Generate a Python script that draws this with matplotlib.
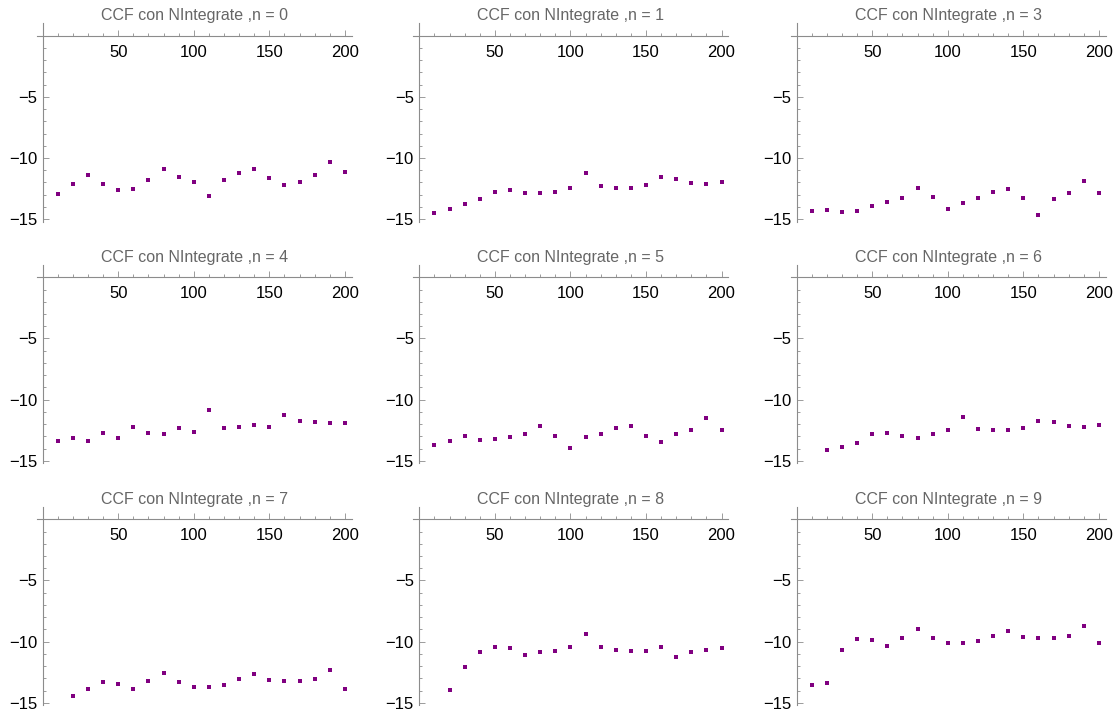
import numpy as np
import matplotlib
matplotlib.use("Agg")
import matplotlib.pyplot as plt
from matplotlib.ticker import MultipleLocator, FixedLocator

plt.rcParams['font.family'] = ['Liberation Sans', 'DejaVu Sans']

# ---- data ----
n_values = [0, 1, 3, 4, 5, 6, 7, 8, 9]

x_full = list(range(10, 201, 10))   # 10 .. 200
x_from20 = list(range(20, 201, 10))  # 20 .. 200

ccf_n0 = [-12.98, -12.13, -11.43, -12.13, -12.64, -12.50, -11.80, -10.90, -11.55, -11.99,
          -13.12, -11.80, -11.26, -10.90, -11.60, -12.22, -11.94, -11.38, -10.31, -11.18]
ccf_n1 = [-14.50, -14.13, -13.76, -13.37, -12.75, -12.64, -12.89, -12.89, -12.75, -12.42,
          -11.24, -12.28, -12.42, -12.42, -12.22, -11.57, -11.74, -12.08, -12.13, -11.99]
ccf_n3 = [-14.36, -14.22, -14.41, -14.36, -13.95, -13.62, -13.30, -12.48, -13.22, -14.17,
          -13.68, -13.30, -12.75, -12.56, -13.30, -14.69, -13.35, -12.89, -11.88, -12.83]
ccf_n4 = [-13.35, -13.16, -13.35, -12.75, -13.16, -12.21, -12.75, -12.81, -12.34, -12.62,
          -10.87, -12.29, -12.21, -12.07, -12.21, -11.28, -11.74, -11.83, -11.88, -11.93]
ccf_n5 = [-13.68, -13.41, -12.94, -13.32, -13.22, -13.08, -12.81, -12.13, -12.94, -13.95,
          -13.08, -12.81, -12.34, -12.13, -13.00, -13.46, -12.81, -12.48, -11.50, -12.48]
ccf_n6 = [-14.11, -13.84, -13.51, -12.83, -12.72, -12.97, -13.13, -12.83, -12.51, -11.39,
          -12.37, -12.51, -12.51, -12.32, -11.72, -11.85, -12.18, -12.23, -12.10]
ccf_n7 = [-14.48, -13.88, -13.28, -13.47, -13.88, -13.22, -12.54, -13.28, -13.72, -13.72,
          -13.55, -13.06, -12.68, -13.14, -13.20, -13.20, -13.06, -12.35, -13.88]
ccf_n8 = [-13.93, -12.08, -10.82, -10.41, -10.55, -11.09, -10.82, -10.74, -10.41, -9.34,
          -10.46, -10.68, -10.74, -10.74, -10.46, -11.26, -10.87, -10.68, -10.55]
ccf_n9 = [-13.55, -13.42, -10.68, -9.75, -9.89, -10.36, -9.70, -8.96, -9.70, -10.08,
          -10.14, -9.95, -9.54, -9.15, -9.62, -9.67, -9.67, -9.54, -8.74, -10.14]

series_x = [x_full, x_full, x_full, x_full, x_full, x_from20, x_from20, x_from20, x_full]
series_y = [ccf_n0, ccf_n1, ccf_n3, ccf_n4, ccf_n5, ccf_n6, ccf_n7, ccf_n8, ccf_n9]

x_major = [50, 100, 150, 200]
y_major = [-5, -10, -15]

# ---- layout ----
W, H = 1118, 716
fig = plt.figure(figsize=(W / 100, H / 100), dpi=100)

XMIN, XMAX = -4.0, 204.6
YMIN, YMAX = -15.2, 1.0
px_per_x = 1.511
px_per_y = 12.23
yaxis_px = [42.7, 419.3, 796.7]
xaxis_px = [35.7, 277.3, 519.3]

axis_col = '#8c8c8c'
pt_col = '#800080'

for i, (n, xs, ys) in enumerate(zip(n_values, series_x, series_y)):
    r, c = divmod(i, 3)
    left = yaxis_px[c] + XMIN * px_per_x
    width = (XMAX - XMIN) * px_per_x
    top = xaxis_px[r] - YMAX * px_per_y
    height = (YMAX - YMIN) * px_per_y
    ax = fig.add_axes([left / W, 1 - (top + height) / H, width / W, height / H])
    ax.set_xlim(XMIN, XMAX)
    ax.set_ylim(YMIN, YMAX)
    ax.patch.set_alpha(0)

    ax.plot(xs, ys, linestyle='none', marker='s', markersize=2.8,
            markeredgewidth=0, color=pt_col, clip_on=False)

    for s in ('top', 'right'):
        ax.spines[s].set_visible(False)
    ax.spines['bottom'].set_position(('data', 0))
    ax.spines['left'].set_position(('data', 0))
    for s in ('bottom', 'left'):
        ax.spines[s].set_color(axis_col)
        ax.spines[s].set_linewidth(0.8)

    ax.xaxis.set_major_locator(FixedLocator(x_major))
    ax.xaxis.set_minor_locator(FixedLocator([v for v in range(10, 201, 10) if v % 50]))
    ax.yaxis.set_major_locator(FixedLocator(y_major))
    ax.yaxis.set_minor_locator(FixedLocator([v for v in range(-14, 0) if v % 5]))

    ax.tick_params(axis='both', which='both', direction='in', color=axis_col,
                   width=0.6, labelcolor='black', labelsize=12)
    ax.tick_params(axis='both', which='major', length=4)
    ax.tick_params(axis='both', which='minor', length=2.2)
    ax.tick_params(axis='x', which='major', pad=6.5)
    ax.tick_params(axis='y', which='major', pad=4)

    ax.set_title(f'CCF con NIntegrate ,n = {n}', fontsize=11.5, color='#666666', pad=2.5)

fig.savefig('out.png', dpi=100)
